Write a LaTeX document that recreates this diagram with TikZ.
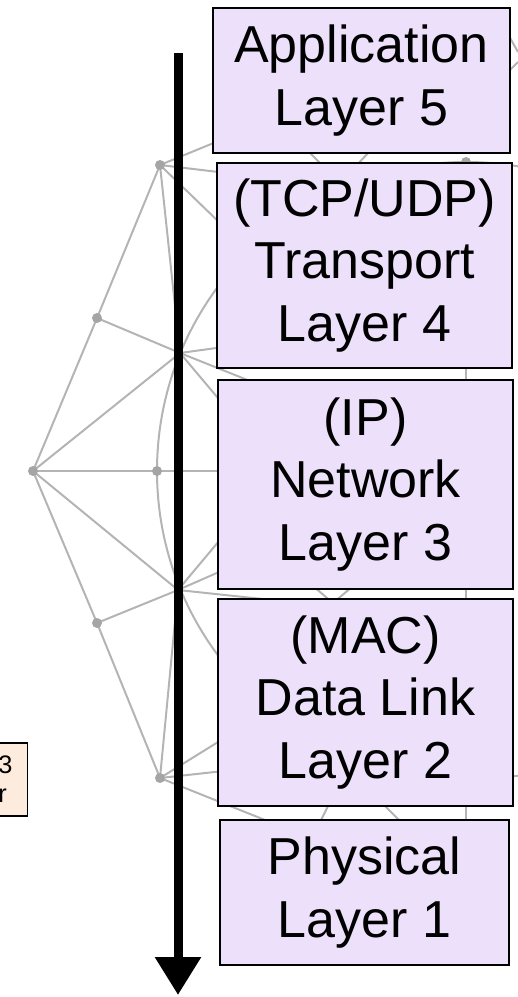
\documentclass[tikz,border=0pt]{standalone}
\usepackage{fontspec}
\setmainfont{Liberation Sans}
\usetikzlibrary{arrows.meta}
\definecolor{layerfill}{RGB}{237,224,251}
\definecolor{routerfill}{RGB}{253,236,222}
\definecolor{meshgray}{RGB}{180,180,180}
\definecolor{dotgray}{RGB}{165,165,165}

\begin{document}
\begin{tikzpicture}[x=0.75pt,y=-0.75pt,
   mesh/.style={draw=meshgray,line width=1.5pt},
   knot/.style={fill=dotgray},
   layerbox/.style={draw=black,line width=1.1pt,fill=layerfill,inner sep=0pt,align=center,
      font=\fontsize{39}{47}\selectfont},
   routerbox/.style={draw=black,line width=1.1pt,fill=routerfill,inner ysep=0pt,inner xsep=1.5pt,
      text width=20.25pt,align=left,minimum height=54.75pt,font=\fontsize{19}{21.75}\selectfont}]

   \useasboundingbox (0,0) rectangle (518,997);
   \clip (0,0) rectangle (518,997);

   \draw[mesh] (160,165)--(97,318)--(33,471)--(97,623)--(160,778);
   \draw[mesh] (160,165)--(180,353);
   \draw[mesh] (178,590)--(160,778);
   \draw[mesh] (97,318)--(180,353)--(33,471)--(178,590)--(97,623);
   \draw[mesh] (33,471)--(260,471);
   \draw[mesh] (466,471) circle[radius=231.75pt];

   \draw[mesh] (160,165)--(255,126);
   \draw[mesh] (160,165)--(260,177);
   \draw[mesh] (160,165)--(250,252);
   \draw[mesh] (180,353)--(260,342);
   \draw[mesh] (180,353)--(270,389);
   \draw[mesh] (180,353)--(250,436);
   \draw[mesh] (178,590)--(250,504);
   \draw[mesh] (178,590)--(260,554);
   \draw[mesh] (178,590)--(300,603);
   \draw[mesh] (160,778)--(260,716);
   \draw[mesh] (160,778)--(260,767);
   \draw[mesh] (160,778)--(300,834);

   \draw[mesh] (295,138)--(340,183)--(385,135);
   \draw[mesh] (300,575)--(333,603)--(366,575);
   \draw[mesh] (316,830)--(336,790);
   \draw[mesh] (370,791)--(410,831);
   \draw[mesh] (466,162)--(466,840);
   \draw[mesh] (500,20)--(518,52);
   \draw[mesh] (500,80)--(518,62);

   \fill[knot] (160,165) circle[radius=3.75pt];
   \fill[knot] (97,318) circle[radius=3.75pt];
   \fill[knot] (33,471) circle[radius=3.75pt];
   \fill[knot] (157,471) circle[radius=3.75pt];
   \fill[knot] (97,623) circle[radius=3.75pt];
   \fill[knot] (160,778) circle[radius=3.75pt];
   \fill[knot] (466,162) circle[radius=3.75pt];

   \coordinate (flowtop) at (178,53);
   \coordinate (flowend) at (178,995);
   \draw[line width=6.75pt,-{Triangle[length=28.5pt,width=33pt]}] (flowtop)--(flowend);

   \node[layerbox,minimum width=222.75pt,minimum height=108.75pt] (app) at (361.5,80.5) {Application\\Layer 5};
   \node[layerbox,minimum width=221.25pt,minimum height=153.75pt] (transport) at (364.5,265.5) {(TCP/UDP)\\Transport\\Layer 4};
   \node[layerbox,minimum width=221.25pt,minimum height=156.75pt] (network) at (365.5,484.5) {(IP)\\Network\\Layer 3};
   \node[layerbox,minimum width=221.25pt,minimum height=155.25pt] (datalink) at (365.5,702.5) {(MAC)\\Data Link\\Layer 2};
   \node[layerbox,minimum width=216.75pt,minimum height=108.75pt] (physical) at (364.5,892.5) {Physical\\Layer 1};

   \node[routerbox,anchor=east] (router) at (28,779.5) {3\\r};

  \end{tikzpicture}
\end{document}
